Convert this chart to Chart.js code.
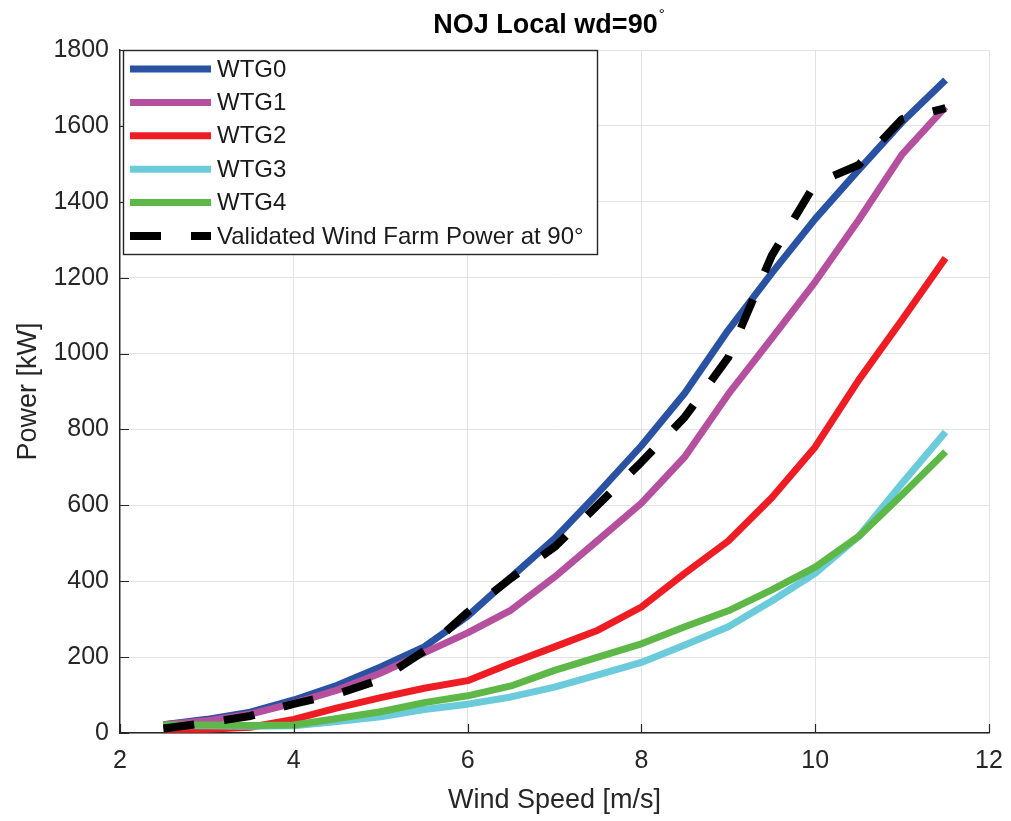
<!DOCTYPE html>
<html>
<head>
<meta charset="utf-8">
<title>NOJ Local wd=90</title>
<script src="https://cdn.jsdelivr.net/npm/chart.js@4.4.1/dist/chart.umd.min.js"></script>
<style>
    html, body { margin: 0; padding: 0; background: #fff; }
    #wrap { width: 1011px; height: 821px; }
</style>
</head>
<body>
<div id="wrap"><canvas id="powerChart" width="1011" height="821"></canvas></div>
<script>
"use strict";
// wind speed bins [m/s]
var windSpeed = [2.5, 3, 3.5, 4, 4.5, 5, 5.5, 6, 6.5, 7, 7.5, 8, 8.5, 9, 9.5, 10, 10.5, 11, 11.5];
// turbine power [kW]
var wtg0 = [22, 36, 55, 87, 126, 174, 227, 308, 411, 512, 632, 757, 896, 1062, 1212, 1355, 1484, 1610, 1721];
var wtg1 = [22, 32, 50, 79, 113, 158, 211, 264, 324, 411, 508, 606, 728, 893, 1040, 1189, 1352, 1525, 1650];
var wtg2 = [10, 10, 15, 36, 66, 93, 118, 138, 184, 227, 271, 332, 421, 506, 620, 754, 930, 1089, 1252];
var wtg3 = [20, 19, 18, 19, 30, 43, 62, 76, 95, 121, 153, 186, 232, 280, 348, 421, 518, 658, 793];
var wtg4 = [21, 21, 20, 21, 38, 56, 80, 98, 124, 165, 200, 235, 280, 322, 377, 437, 518, 628, 741];
var validated = [12, 27, 45, 77, 103, 141, 216, 318, 408, 490, 601, 714, 833, 990, 1258, 1448, 1497, 1618, 1647];

var seriesNames = ["WTG0", "WTG1", "WTG2", "WTG3", "WTG4", "Validated Wind Farm Power at 90\u00b0"];
var seriesColors = ["#2a52a3", "#b5509f", "#ee1d24", "#6bcbdb", "#5db848", "#000000"];
var xTicks = [2, 4, 6, 8, 10, 12];
var yTicks = [0, 200, 400, 600, 800, 1000, 1200, 1400, 1600, 1800];

var axisColor = "#262626";
var gridColor = "#e3e3e3";
var fontName = "'Liberation Sans', Arial, sans-serif";

function toPoints(values) {
    return values.map(function (v, i) {
        return { x: windSpeed[i], y: v };
    });
}

var allSeries = [wtg0, wtg1, wtg2, wtg3, wtg4, validated];
var datasets = allSeries.map(function (values, i) {
    var isDashed = i === allSeries.length - 1;
    return {
        label: seriesNames[i],
        data: toPoints(values),
        borderColor: seriesColors[i],
        backgroundColor: seriesColors[i],
        borderWidth: isDashed ? 8 : 7,
        borderDash: isDashed ? [31, 30] : [],
        borderJoinStyle: "round",
        pointRadius: 0,
        tension: 0,
        fill: false,
        // later series drawn on top
        order: allSeries.length - i
    };
});

// small inward tick marks on the left and bottom axes
var innerTicks = {
    id: "innerTicks",
    afterDraw: function (chart) {
        var ctx = chart.ctx;
        var a = chart.chartArea;
        var xs = chart.scales.x, ys = chart.scales.y;
        ctx.save();
        ctx.strokeStyle = axisColor;
        ctx.lineWidth = 1.2;
        ctx.beginPath();
        xTicks.forEach(function (v) {
            var px = Math.round(xs.getPixelForValue(v)) + 0.5;
            ctx.moveTo(px, a.bottom);
            ctx.lineTo(px, a.bottom - 9);
        });
        yTicks.forEach(function (v) {
            var py = Math.round(ys.getPixelForValue(v)) + 0.5;
            ctx.moveTo(a.left, py);
            ctx.lineTo(a.left + 9, py);
        });
        ctx.stroke();
        ctx.restore();
    }
};

// title with raised degree sign
var plotTitle = {
    id: "plotTitle",
    afterDraw: function (chart) {
        var ctx = chart.ctx;
        var a = chart.chartArea;
        var main = "NOJ Local wd=90";
        ctx.save();
        ctx.fillStyle = "#000";
        ctx.font = "bold 27px " + fontName;
        ctx.textBaseline = "alphabetic";
        var w = ctx.measureText(main).width;
        var left = (a.left + a.right) / 2 - (w + 10) / 2 - 4;
        ctx.fillText(main, left, 33);
        ctx.font = "15px " + fontName;
        ctx.fillText("\u00b0", left + w + 1, 19);
        ctx.restore();
    }
};

// boxed legend in the upper left corner of the plot
var boxLegend = {
    id: "boxLegend",
    afterDraw: function (chart) {
        var ctx = chart.ctx;
        var a = chart.chartArea;
        var x0 = a.left + 3, y0 = a.top, w = 474, h = 204, rowH = 33.4;
        ctx.save();
        ctx.fillStyle = "#fff";
        ctx.fillRect(x0, y0, w, h);
        ctx.strokeStyle = axisColor;
        ctx.lineWidth = 1.4;
        ctx.strokeRect(x0 + 0.5, y0 + 0.5, w, h);
        ctx.font = "24px " + fontName;
        ctx.textBaseline = "middle";
        chart.data.datasets.forEach(function (ds, i) {
            var y = y0 + 19 + i * rowH;
            ctx.beginPath();
            ctx.setLineDash(ds.borderDash);
            ctx.lineWidth = ds.borderWidth;
            ctx.strokeStyle = ds.borderColor;
            ctx.moveTo(x0 + 7, y);
            ctx.lineTo(x0 + 88, y);
            ctx.stroke();
            ctx.setLineDash([]);
            ctx.fillStyle = "#1a1a1a";
            ctx.fillText(ds.label, x0 + 94, y + 1);
        });
        ctx.restore();
    }
};

function plainLabel(value) {
    return String(value);
}

var ctx = document.getElementById("powerChart");
var powerChart = new Chart(ctx, {
    type: "line",
    data: { datasets: datasets },
    plugins: [innerTicks, boxLegend, plotTitle],
    options: {
        responsive: false,
        animation: false,
        layout: { padding: { top: 50, right: 22, left: 0, bottom: 0 } },
        plugins: {
            legend: { display: false },
            title: { display: false },
            tooltip: { enabled: false }
        },
        scales: {
            x: {
                type: "linear",
                min: 2,
                max: 12,
                afterBuildTicks: function (scale) {
                    scale.ticks = xTicks.map(function (v) { return { value: v }; });
                },
                afterFit: function (scale) {
                    scale.height = 88;
                    scale.paddingLeft = 0;
                    scale.paddingRight = 0;
                },
                grid: { color: gridColor, lineWidth: 1, drawTicks: false },
                border: { color: axisColor, width: 1.4 },
                ticks: {
                    color: axisColor,
                    font: { family: fontName, size: 25 },
                    padding: 13,
                    maxRotation: 0,
                    callback: plainLabel
                },
                title: {
                    display: true,
                    text: "Wind Speed [m/s]",
                    color: axisColor,
                    font: { family: fontName, size: 27 },
                    padding: { top: 0, bottom: 4 }
                }
            },
            y: {
                type: "linear",
                min: 0,
                max: 1800,
                afterBuildTicks: function (scale) {
                    scale.ticks = yTicks.map(function (v) { return { value: v }; });
                },
                afterFit: function (scale) {
                    scale.width = 120;
                    scale.paddingTop = 0;
                    scale.paddingBottom = 0;
                },
                grid: { color: gridColor, lineWidth: 1, drawTicks: false },
                border: { color: axisColor, width: 1.4 },
                ticks: {
                    color: axisColor,
                    font: { family: fontName, size: 25 },
                    padding: 11,
                    callback: plainLabel
                },
                title: {
                    display: true,
                    text: "Power [kW]",
                    color: axisColor,
                    font: { family: fontName, size: 27 },
                    padding: { top: 12, bottom: 0 }
                }
            }
        }
    }
});
</script>
</body>
</html>
